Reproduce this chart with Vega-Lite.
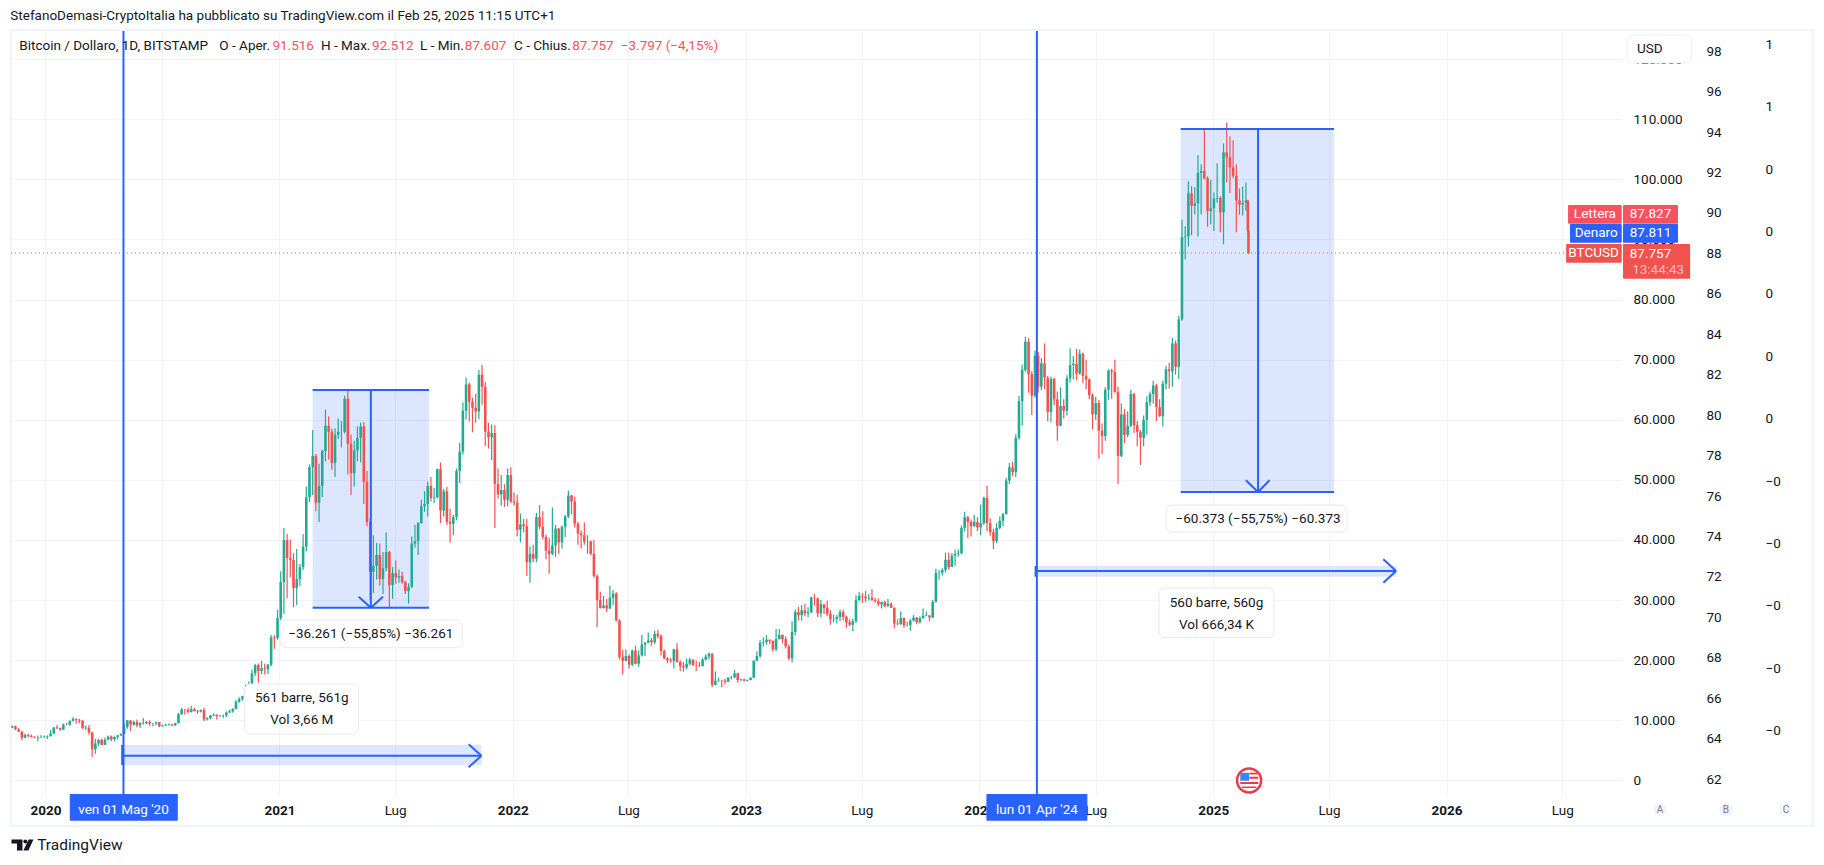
{"$schema":"https://vega.github.io/schema/vega-lite/v6.json","description":"BTCUSD daily chart with measure tools","width":1610,"height":765,"padding":{"left":12,"top":31,"right":202,"bottom":69},"autosize":"none","background":"white","config":{"view":{"stroke":null},"font":"Roboto"},"datasets":{
"candles":[
{"d":"2019-11-10","o":8800,"h":9150,"l":8700,"c":9000},{"d":"2019-11-15","o":9000,"h":9100,"l":8400,"c":8500},{"d":"2019-11-20","o":8500,"h":8700,"l":8050,"c":8100},{"d":"2019-11-25","o":8100,"h":8200,"l":6700,"c":7100},{"d":"2019-11-30","o":7100,"h":7800,"l":7000,"c":7550},{"d":"2019-12-05","o":7550,"h":7750,"l":7200,"c":7400},{"d":"2019-12-10","o":7400,"h":7650,"l":7150,"c":7200},{"d":"2019-12-15","o":7200,"h":7350,"l":7000,"c":7100},{"d":"2019-12-20","o":7100,"h":7450,"l":6500,"c":7150},{"d":"2019-12-25","o":7150,"h":7500,"l":7050,"c":7200},{"d":"2019-12-30","o":7200,"h":7450,"l":7100,"c":7250},
{"d":"2020-01-04","o":7250,"h":7500,"l":6900,"c":7350},{"d":"2020-01-09","o":7350,"h":8400,"l":7300,"c":7800},{"d":"2020-01-14","o":7800,"h":8900,"l":7700,"c":8800},{"d":"2020-01-19","o":8800,"h":9200,"l":8500,"c":8700},{"d":"2020-01-24","o":8700,"h":8800,"l":8250,"c":8450},{"d":"2020-01-29","o":8450,"h":9450,"l":8400,"c":9300},{"d":"2020-02-03","o":9300,"h":9550,"l":9200,"c":9280},{"d":"2020-02-08","o":9280,"h":9950,"l":9100,"c":9900},{"d":"2020-02-13","o":9900,"h":10500,"l":9800,"c":10250},{"d":"2020-02-18","o":10250,"h":10300,"l":9450,"c":10100},{"d":"2020-02-23","o":10100,"h":10200,"l":9500,"c":9950},{"d":"2020-02-28","o":9950,"h":10000,"l":8500,"c":8700},{"d":"2020-03-04","o":8700,"h":9150,"l":8400,"c":8750},{"d":"2020-03-09","o":8750,"h":9200,"l":7650,"c":7950},{"d":"2020-03-14","o":7950,"h":8150,"l":3940,"c":5200},{"d":"2020-03-19","o":5200,"h":6900,"l":4450,"c":6150},{"d":"2020-03-24","o":6150,"h":6850,"l":5700,"c":6750},{"d":"2020-03-29","o":6750,"h":6950,"l":5850,"c":5900},{"d":"2020-04-03","o":5900,"h":7150,"l":5900,"c":6750},{"d":"2020-04-08","o":6750,"h":7450,"l":6650,"c":7300},{"d":"2020-04-13","o":7300,"h":7450,"l":6550,"c":6850},{"d":"2020-04-18","o":6850,"h":7300,"l":6500,"c":7250},{"d":"2020-04-23","o":7250,"h":7550,"l":6800,"c":7500},{"d":"2020-04-28","o":7500,"h":7800,"l":7400,"c":7750},{"d":"2020-05-03","o":7750,"h":9450,"l":7700,"c":8900},{"d":"2020-05-08","o":8900,"h":10050,"l":8600,"c":9980},{"d":"2020-05-13","o":9980,"h":10000,"l":8200,"c":9300},{"d":"2020-05-18","o":9300,"h":9950,"l":9100,"c":9700},{"d":"2020-05-23","o":9700,"h":10150,"l":8850,"c":9180},{"d":"2020-05-28","o":9180,"h":9600,"l":8700,"c":9580},{"d":"2020-06-02","o":9580,"h":10400,"l":9300,"c":9500},{"d":"2020-06-07","o":9500,"h":9850,"l":9350,"c":9750},{"d":"2020-06-12","o":9750,"h":10000,"l":9100,"c":9450},{"d":"2020-06-17","o":9450,"h":9550,"l":8950,"c":9470},{"d":"2020-06-22","o":9470,"h":9750,"l":9200,"c":9680},{"d":"2020-06-27","o":9680,"h":9700,"l":8850,"c":9000},{"d":"2020-07-02","o":9000,"h":9300,"l":8950,"c":9120},{"d":"2020-07-07","o":9120,"h":9380,"l":9050,"c":9250},{"d":"2020-07-12","o":9250,"h":9480,"l":9100,"c":9300},{"d":"2020-07-17","o":9300,"h":9330,"l":9000,"c":9150},{"d":"2020-07-22","o":9150,"h":9550,"l":9100,"c":9520},{"d":"2020-07-27","o":9520,"h":11200,"l":9500,"c":11000},{"d":"2020-08-01","o":11000,"h":12100,"l":10900,"c":11800},{"d":"2020-08-06","o":11800,"h":11900,"l":10950,"c":11750},{"d":"2020-08-11","o":11750,"h":12100,"l":11150,"c":11400},{"d":"2020-08-16","o":11400,"h":12400,"l":11300,"c":11850},{"d":"2020-08-21","o":11850,"h":12050,"l":11450,"c":11550},{"d":"2020-08-26","o":11550,"h":11700,"l":11100,"c":11450},{"d":"2020-08-31","o":11450,"h":11800,"l":11300,"c":11700},{"d":"2020-09-05","o":11700,"h":12050,"l":9850,"c":10150},{"d":"2020-09-10","o":10150,"h":10500,"l":9950,"c":10350},{"d":"2020-09-15","o":10350,"h":10900,"l":10200,"c":10800},{"d":"2020-09-20","o":10800,"h":11150,"l":10700,"c":10930},{"d":"2020-09-25","o":10930,"h":10950,"l":10150,"c":10700},{"d":"2020-09-30","o":10700,"h":10880,"l":10600,"c":10780},{"d":"2020-10-05","o":10780,"h":10950,"l":10400,"c":10800},{"d":"2020-10-10","o":10800,"h":11450,"l":10550,"c":11300},{"d":"2020-10-15","o":11300,"h":11750,"l":11200,"c":11500},{"d":"2020-10-20","o":11500,"h":12000,"l":11250,"c":11900},{"d":"2020-10-25","o":11900,"h":13350,"l":11850,"c":13100},{"d":"2020-10-30","o":13100,"h":13850,"l":12900,"c":13550},{"d":"2020-11-04","o":13550,"h":14100,"l":13250,"c":14000},{"d":"2020-11-09","o":14000,"h":15950,"l":13500,"c":15300},{"d":"2020-11-14","o":15300,"h":16450,"l":14900,"c":16000},{"d":"2020-11-19","o":16000,"h":18450,"l":15800,"c":17800},{"d":"2020-11-24","o":17800,"h":19400,"l":17350,"c":19150},{"d":"2020-11-29","o":19150,"h":19450,"l":16300,"c":18200},{"d":"2020-12-04","o":18200,"h":19900,"l":17700,"c":18650},{"d":"2020-12-09","o":18650,"h":19400,"l":17600,"c":18500},{"d":"2020-12-14","o":18500,"h":19350,"l":17700,"c":19250},{"d":"2020-12-19","o":19250,"h":24200,"l":19000,"c":23800},{"d":"2020-12-24","o":23800,"h":24150,"l":21900,"c":23700},{"d":"2020-12-29","o":23700,"h":28400,"l":23400,"c":27000},
{"d":"2021-01-03","o":27000,"h":34800,"l":26700,"c":33000},{"d":"2021-01-08","o":33000,"h":42000,"l":27700,"c":40000},{"d":"2021-01-13","o":40000,"h":41000,"l":30300,"c":37000},{"d":"2021-01-18","o":37000,"h":40100,"l":33800,"c":36700},{"d":"2021-01-23","o":36700,"h":37800,"l":28800,"c":32000},{"d":"2021-01-28","o":32000,"h":38500,"l":29200,"c":33500},{"d":"2021-02-02","o":33500,"h":36000,"l":32300,"c":35500},{"d":"2021-02-07","o":35500,"h":41000,"l":35000,"c":38900},{"d":"2021-02-12","o":38900,"h":48900,"l":38100,"c":47100},{"d":"2021-02-17","o":47100,"h":52600,"l":46300,"c":52100},{"d":"2021-02-22","o":52100,"h":58300,"l":47500,"c":54000},{"d":"2021-02-27","o":54000,"h":54300,"l":44800,"c":46200},{"d":"2021-03-04","o":46200,"h":52700,"l":43000,"c":49000},{"d":"2021-03-09","o":49000,"h":55000,"l":47100,"c":54800},{"d":"2021-03-14","o":54800,"h":61700,"l":53100,"c":59000},{"d":"2021-03-19","o":59000,"h":60600,"l":53400,"c":58000},{"d":"2021-03-24","o":58000,"h":58500,"l":51700,"c":52800},{"d":"2021-03-29","o":52800,"h":58600,"l":50500,"c":57500},{"d":"2021-04-03","o":57500,"h":60200,"l":56800,"c":58000},{"d":"2021-04-08","o":58000,"h":59800,"l":55400,"c":58000},{"d":"2021-04-13","o":58000,"h":64000,"l":57700,"c":63500},{"d":"2021-04-18","o":63500,"h":64950,"l":50900,"c":56000},{"d":"2021-04-23","o":56000,"h":57500,"l":47500,"c":51100},{"d":"2021-04-28","o":51100,"h":56500,"l":48900,"c":54900},{"d":"2021-05-03","o":54900,"h":58900,"l":53100,"c":57000},{"d":"2021-05-08","o":57000,"h":59500,"l":52900,"c":58900},{"d":"2021-05-13","o":58900,"h":59600,"l":46000,"c":49700},{"d":"2021-05-18","o":49700,"h":51500,"l":42300,"c":43000},{"d":"2021-05-23","o":43000,"h":43600,"l":30100,"c":34700},{"d":"2021-05-28","o":34700,"h":40800,"l":31200,"c":35700},{"d":"2021-06-02","o":35700,"h":39500,"l":33400,"c":37500},{"d":"2021-06-07","o":37500,"h":39400,"l":32400,"c":33500},{"d":"2021-06-12","o":33500,"h":38000,"l":31000,"c":35300},{"d":"2021-06-17","o":35300,"h":41300,"l":34800,"c":38000},{"d":"2021-06-22","o":38000,"h":38200,"l":28800,"c":32500},{"d":"2021-06-27","o":32500,"h":35500,"l":30200,"c":34500},{"d":"2021-07-02","o":34500,"h":36600,"l":32700,"c":33800},{"d":"2021-07-07","o":33800,"h":35100,"l":32900,"c":34000},{"d":"2021-07-12","o":34000,"h":34700,"l":32700,"c":33000},{"d":"2021-07-17","o":33000,"h":33200,"l":31000,"c":31500},{"d":"2021-07-22","o":31500,"h":32800,"l":29400,"c":32200},{"d":"2021-07-27","o":32200,"h":40600,"l":32000,"c":39400},{"d":"2021-08-01","o":39400,"h":42500,"l":38700,"c":39800},{"d":"2021-08-06","o":39800,"h":43000,"l":37500,"c":42800},{"d":"2021-08-11","o":42800,"h":46700,"l":42700,"c":45600},{"d":"2021-08-16","o":45600,"h":48100,"l":44700,"c":46000},{"d":"2021-08-21","o":46000,"h":49700,"l":43900,"c":49000},{"d":"2021-08-26","o":49000,"h":50500,"l":46400,"c":47000},{"d":"2021-08-31","o":47000,"h":48700,"l":46100,"c":47100},{"d":"2021-09-05","o":47100,"h":51900,"l":46900,"c":51800},{"d":"2021-09-10","o":51800,"h":52900,"l":42800,"c":44900},{"d":"2021-09-15","o":44900,"h":48500,"l":43900,"c":48100},{"d":"2021-09-20","o":48100,"h":48800,"l":42500,"c":43000},{"d":"2021-09-25","o":43000,"h":45200,"l":39600,"c":42700},{"d":"2021-09-30","o":42700,"h":44200,"l":40800,"c":43800},{"d":"2021-10-05","o":43800,"h":51900,"l":43300,"c":51500},{"d":"2021-10-10","o":51500,"h":56200,"l":49500,"c":54700},{"d":"2021-10-15","o":54700,"h":62900,"l":54200,"c":61500},{"d":"2021-10-20","o":61500,"h":67000,"l":60000,"c":65900},{"d":"2021-10-25","o":65900,"h":66200,"l":59700,"c":63000},{"d":"2021-10-30","o":63000,"h":63700,"l":57900,"c":62000},{"d":"2021-11-04","o":62000,"h":64300,"l":59500,"c":61400},{"d":"2021-11-09","o":61400,"h":68300,"l":60100,"c":67500},{"d":"2021-11-14","o":67500,"h":69100,"l":62500,"c":65500},{"d":"2021-11-19","o":65500,"h":66300,"l":55600,"c":58000},{"d":"2021-11-24","o":58000,"h":59500,"l":55200,"c":57100},{"d":"2021-11-29","o":57100,"h":59200,"l":53300,"c":57800},{"d":"2021-12-04","o":57800,"h":59100,"l":42000,"c":49300},{"d":"2021-12-09","o":49300,"h":51900,"l":46900,"c":47600},{"d":"2021-12-14","o":47600,"h":50800,"l":45700,"c":48300},{"d":"2021-12-19","o":48300,"h":49300,"l":45500,"c":46700},{"d":"2021-12-24","o":46700,"h":51900,"l":45600,"c":50800},{"d":"2021-12-29","o":50800,"h":52100,"l":46100,"c":46400},
{"d":"2022-01-03","o":46400,"h":47900,"l":45700,"c":46200},{"d":"2022-01-08","o":46200,"h":47500,"l":40600,"c":41700},{"d":"2022-01-13","o":41700,"h":44400,"l":39600,"c":42600},{"d":"2022-01-18","o":42600,"h":43500,"l":41300,"c":42300},{"d":"2022-01-23","o":42300,"h":43500,"l":34000,"c":36300},{"d":"2022-01-28","o":36300,"h":38900,"l":32900,"c":37700},{"d":"2022-02-02","o":37700,"h":39200,"l":36300,"c":36900},{"d":"2022-02-07","o":36900,"h":44500,"l":36300,"c":43800},{"d":"2022-02-12","o":43800,"h":45800,"l":41800,"c":42200},{"d":"2022-02-17","o":42200,"h":44800,"l":40100,"c":40500},{"d":"2022-02-22","o":40500,"h":40900,"l":36800,"c":38200},{"d":"2022-02-27","o":38200,"h":40300,"l":34400,"c":37700},{"d":"2022-03-04","o":37700,"h":45400,"l":37500,"c":39100},{"d":"2022-03-09","o":39100,"h":42500,"l":37200,"c":41900},{"d":"2022-03-14","o":41900,"h":42000,"l":37700,"c":39600},{"d":"2022-03-19","o":39600,"h":42400,"l":38600,"c":42200},{"d":"2022-03-24","o":42200,"h":44200,"l":40500,"c":43900},{"d":"2022-03-29","o":43900,"h":48200,"l":43600,"c":47400},{"d":"2022-04-03","o":47400,"h":47500,"l":44300,"c":46400},{"d":"2022-04-08","o":46400,"h":47200,"l":42100,"c":42700},{"d":"2022-04-13","o":42700,"h":43000,"l":39200,"c":41100},{"d":"2022-04-18","o":41100,"h":41600,"l":38600,"c":40800},{"d":"2022-04-23","o":40800,"h":42900,"l":39200,"c":39700},{"d":"2022-04-28","o":39700,"h":40800,"l":37700,"c":39750},{"d":"2022-05-03","o":39750,"h":39900,"l":37400,"c":37700},{"d":"2022-05-08","o":37700,"h":40000,"l":33700,"c":34000},{"d":"2022-05-13","o":34000,"h":34300,"l":25500,"c":30000},{"d":"2022-05-18","o":30000,"h":31400,"l":28600,"c":28700},{"d":"2022-05-23","o":28700,"h":30700,"l":28600,"c":29100},{"d":"2022-05-28","o":29100,"h":30200,"l":28000,"c":28600},{"d":"2022-06-02","o":28600,"h":32400,"l":28500,"c":30400},{"d":"2022-06-07","o":30400,"h":31700,"l":29200,"c":31100},{"d":"2022-06-12","o":31100,"h":31300,"l":26500,"c":26600},{"d":"2022-06-17","o":26600,"h":26800,"l":20100,"c":20500},{"d":"2022-06-22","o":20500,"h":21700,"l":17600,"c":19900},{"d":"2022-06-27","o":19900,"h":21800,"l":19800,"c":20700},{"d":"2022-07-02","o":20700,"h":21000,"l":18600,"c":19250},{"d":"2022-07-07","o":19250,"h":21800,"l":19000,"c":21600},{"d":"2022-07-12","o":21600,"h":22400,"l":19300,"c":19400},{"d":"2022-07-17","o":19400,"h":21600,"l":18900,"c":20800},{"d":"2022-07-22","o":20800,"h":24200,"l":20600,"c":22600},{"d":"2022-07-27","o":22600,"h":23000,"l":20700,"c":22900},{"d":"2022-08-01","o":22900,"h":24600,"l":22800,"c":23300},{"d":"2022-08-06","o":23300,"h":23700,"l":22400,"c":23000},{"d":"2022-08-11","o":23000,"h":24900,"l":22700,"c":24400},{"d":"2022-08-16","o":24400,"h":25100,"l":23600,"c":24000},{"d":"2022-08-21","o":24000,"h":24300,"l":20800,"c":21500},{"d":"2022-08-26","o":21500,"h":21800,"l":20100,"c":20300},{"d":"2022-08-31","o":20300,"h":20500,"l":19500,"c":20000},{"d":"2022-09-05","o":20000,"h":20400,"l":19600,"c":19900},{"d":"2022-09-10","o":19900,"h":21900,"l":18600,"c":21800},{"d":"2022-09-15","o":21800,"h":22800,"l":19600,"c":19700},{"d":"2022-09-20","o":19700,"h":20000,"l":18200,"c":19000},{"d":"2022-09-25","o":19000,"h":19700,"l":18100,"c":18800},{"d":"2022-09-30","o":18800,"h":20300,"l":18500,"c":19400},{"d":"2022-10-05","o":19400,"h":20400,"l":19100,"c":20100},{"d":"2022-10-10","o":20100,"h":20100,"l":19100,"c":19120},{"d":"2022-10-15","o":19120,"h":19900,"l":18200,"c":19100},{"d":"2022-10-20","o":19100,"h":19700,"l":18900,"c":19000},{"d":"2022-10-25","o":19000,"h":20400,"l":19000,"c":20100},{"d":"2022-10-30","o":20100,"h":21000,"l":20000,"c":20600},{"d":"2022-11-04","o":20600,"h":21300,"l":20100,"c":21100},{"d":"2022-11-09","o":21100,"h":21100,"l":15500,"c":15900},{"d":"2022-11-14","o":15900,"h":18100,"l":15800,"c":16600},{"d":"2022-11-19","o":16600,"h":17100,"l":16400,"c":16650},{"d":"2022-11-24","o":16650,"h":16800,"l":15500,"c":16600},{"d":"2022-11-29","o":16600,"h":16900,"l":16000,"c":16400},{"d":"2022-12-04","o":16400,"h":17200,"l":16400,"c":17100},{"d":"2022-12-09","o":17100,"h":17400,"l":16800,"c":17150},{"d":"2022-12-14","o":17150,"h":18400,"l":17000,"c":17800},{"d":"2022-12-19","o":17800,"h":17900,"l":16300,"c":16700},{"d":"2022-12-24","o":16700,"h":16900,"l":16550,"c":16800},{"d":"2022-12-29","o":16800,"h":16950,"l":16450,"c":16600},
{"d":"2023-01-03","o":16600,"h":16800,"l":16500,"c":16700},{"d":"2023-01-08","o":16700,"h":17100,"l":16650,"c":17100},{"d":"2023-01-13","o":17100,"h":20000,"l":17050,"c":19900},{"d":"2023-01-18","o":19900,"h":21500,"l":19900,"c":20700},{"d":"2023-01-23","o":20700,"h":23300,"l":20400,"c":22900},{"d":"2023-01-28","o":22900,"h":23800,"l":22300,"c":23000},{"d":"2023-02-02","o":23000,"h":24200,"l":22600,"c":23400},{"d":"2023-02-07","o":23400,"h":23450,"l":22700,"c":23200},{"d":"2023-02-12","o":23200,"h":23300,"l":21400,"c":21800},{"d":"2023-02-17","o":21800,"h":25200,"l":21500,"c":23500},{"d":"2023-02-22","o":23500,"h":25200,"l":23500,"c":24200},{"d":"2023-02-27","o":24200,"h":24300,"l":22800,"c":23500},{"d":"2023-03-04","o":23500,"h":24000,"l":21950,"c":22300},{"d":"2023-03-09","o":22300,"h":22600,"l":20000,"c":20300},{"d":"2023-03-14","o":20300,"h":26500,"l":19600,"c":24700},{"d":"2023-03-19","o":24700,"h":28400,"l":24100,"c":28000},{"d":"2023-03-24","o":28000,"h":28900,"l":26600,"c":27500},{"d":"2023-03-29","o":27500,"h":29200,"l":26600,"c":28300},{"d":"2023-04-03","o":28300,"h":29400,"l":27300,"c":27800},{"d":"2023-04-08","o":27800,"h":28800,"l":27200,"c":28000},{"d":"2023-04-13","o":28000,"h":30600,"l":27800,"c":30400},{"d":"2023-04-18","o":30400,"h":31000,"l":29100,"c":30300},{"d":"2023-04-23","o":30300,"h":30400,"l":27200,"c":27800},{"d":"2023-04-28","o":27800,"h":30000,"l":27100,"c":29300},{"d":"2023-05-03","o":29300,"h":29300,"l":27700,"c":28700},{"d":"2023-05-08","o":28700,"h":29900,"l":27300,"c":27700},{"d":"2023-05-13","o":27700,"h":28300,"l":25900,"c":26800},{"d":"2023-05-18","o":26800,"h":27600,"l":26300,"c":26850},{"d":"2023-05-23","o":26850,"h":27500,"l":26100,"c":27200},{"d":"2023-05-28","o":27200,"h":28450,"l":26500,"c":28000},{"d":"2023-06-02","o":28000,"h":28400,"l":26600,"c":27200},{"d":"2023-06-07","o":27200,"h":27400,"l":25400,"c":26300},{"d":"2023-06-12","o":26300,"h":26800,"l":25700,"c":25900},{"d":"2023-06-17","o":25900,"h":26900,"l":24800,"c":26500},{"d":"2023-06-22","o":26500,"h":30800,"l":26200,"c":30000},{"d":"2023-06-27","o":30000,"h":31400,"l":29900,"c":30700},{"d":"2023-07-02","o":30700,"h":31200,"l":29500,"c":30600},{"d":"2023-07-07","o":30600,"h":31500,"l":29700,"c":30300},{"d":"2023-07-12","o":30300,"h":31000,"l":29900,"c":30400},{"d":"2023-07-17","o":30400,"h":31800,"l":29900,"c":30000},{"d":"2023-07-22","o":30000,"h":30400,"l":29600,"c":29800},{"d":"2023-07-27","o":29800,"h":30300,"l":29000,"c":29300},{"d":"2023-08-01","o":29300,"h":29700,"l":28600,"c":29700},{"d":"2023-08-06","o":29700,"h":29900,"l":28800,"c":29000},{"d":"2023-08-11","o":29000,"h":30200,"l":28900,"c":29400},{"d":"2023-08-16","o":29400,"h":29600,"l":28700,"c":28700},{"d":"2023-08-21","o":28700,"h":28800,"l":25300,"c":26100},{"d":"2023-08-26","o":26100,"h":26800,"l":25800,"c":26000},{"d":"2023-08-31","o":26000,"h":28100,"l":25900,"c":27000},{"d":"2023-09-05","o":27000,"h":27100,"l":25400,"c":25800},{"d":"2023-09-10","o":25800,"h":26400,"l":25600,"c":25850},{"d":"2023-09-15","o":25850,"h":26900,"l":24900,"c":26600},{"d":"2023-09-20","o":26600,"h":27500,"l":26400,"c":27100},{"d":"2023-09-25","o":27100,"h":27200,"l":26000,"c":26300},{"d":"2023-09-30","o":26300,"h":27300,"l":26100,"c":27000},{"d":"2023-10-05","o":27000,"h":28600,"l":26900,"c":27400},{"d":"2023-10-10","o":27400,"h":28100,"l":27300,"c":27450},{"d":"2023-10-15","o":27450,"h":27500,"l":26500,"c":27100},{"d":"2023-10-20","o":27100,"h":30000,"l":27000,"c":29700},{"d":"2023-10-25","o":29700,"h":35200,"l":29600,"c":34500},{"d":"2023-10-30","o":34500,"h":35000,"l":33400,"c":34550},{"d":"2023-11-04","o":34550,"h":35300,"l":34100,"c":35000},{"d":"2023-11-09","o":35000,"h":37900,"l":34600,"c":36700},{"d":"2023-11-14","o":36700,"h":37900,"l":35100,"c":35500},{"d":"2023-11-19","o":35500,"h":37800,"l":35500,"c":37400},{"d":"2023-11-24","o":37400,"h":38400,"l":35700,"c":37700},{"d":"2023-11-29","o":37700,"h":38400,"l":37200,"c":37800},{"d":"2023-12-04","o":37800,"h":42400,"l":37600,"c":42000},{"d":"2023-12-09","o":42000,"h":44700,"l":41400,"c":43800},{"d":"2023-12-14","o":43800,"h":44000,"l":40300,"c":43000},{"d":"2023-12-19","o":43000,"h":43400,"l":40600,"c":42300},{"d":"2023-12-24","o":42300,"h":44200,"l":42200,"c":43000},{"d":"2023-12-29","o":43000,"h":43800,"l":41500,"c":42100},
{"d":"2024-01-03","o":42100,"h":45900,"l":40800,"c":42800},{"d":"2024-01-08","o":42800,"h":47200,"l":42500,"c":47000},{"d":"2024-01-13","o":47000,"h":49000,"l":41500,"c":42800},{"d":"2024-01-18","o":42800,"h":43600,"l":40700,"c":41300},{"d":"2024-01-23","o":41300,"h":41900,"l":38500,"c":39800},{"d":"2024-01-28","o":39800,"h":42800,"l":39500,"c":42000},{"d":"2024-02-02","o":42000,"h":43900,"l":41800,"c":43200},{"d":"2024-02-07","o":43200,"h":44500,"l":42300,"c":44300},{"d":"2024-02-12","o":44300,"h":50300,"l":44300,"c":49900},{"d":"2024-02-17","o":49900,"h":52800,"l":49300,"c":52100},{"d":"2024-02-22","o":52100,"h":53000,"l":50600,"c":51300},{"d":"2024-02-27","o":51300,"h":57600,"l":50500,"c":57000},{"d":"2024-03-03","o":57000,"h":64000,"l":56700,"c":63100},{"d":"2024-03-08","o":63100,"h":69200,"l":59000,"c":68300},{"d":"2024-03-13","o":68300,"h":73800,"l":68000,"c":73000},{"d":"2024-03-18","o":73000,"h":73600,"l":64500,"c":67600},{"d":"2024-03-23","o":67600,"h":68100,"l":60800,"c":64000},{"d":"2024-03-28","o":64000,"h":71500,"l":63700,"c":70700},{"d":"2024-04-02","o":70700,"h":71300,"l":64500,"c":65500},{"d":"2024-04-07","o":65500,"h":70300,"l":64900,"c":69400},{"d":"2024-04-12","o":69400,"h":72700,"l":65100,"c":67000},{"d":"2024-04-17","o":67000,"h":67300,"l":59700,"c":61300},{"d":"2024-04-22","o":61300,"h":67200,"l":59600,"c":66800},{"d":"2024-04-27","o":66800,"h":67000,"l":62400,"c":63400},{"d":"2024-05-02","o":63400,"h":64700,"l":56500,"c":59000},{"d":"2024-05-07","o":59000,"h":65400,"l":58900,"c":62300},{"d":"2024-05-12","o":62300,"h":63400,"l":60200,"c":61500},{"d":"2024-05-17","o":61500,"h":67400,"l":60700,"c":66900},{"d":"2024-05-22","o":66900,"h":71900,"l":66200,"c":69100},{"d":"2024-05-27","o":69100,"h":70600,"l":66700,"c":69300},{"d":"2024-06-01","o":69300,"h":71800,"l":66600,"c":67700},{"d":"2024-06-06","o":67700,"h":71700,"l":67500,"c":71000},{"d":"2024-06-11","o":71000,"h":71200,"l":66100,"c":67300},{"d":"2024-06-16","o":67300,"h":70000,"l":65100,"c":66700},{"d":"2024-06-21","o":66700,"h":66900,"l":63400,"c":64100},{"d":"2024-06-26","o":64100,"h":64400,"l":58400,"c":60900},{"d":"2024-07-01","o":60900,"h":63800,"l":60000,"c":62800},{"d":"2024-07-06","o":62800,"h":63300,"l":53500,"c":58200},{"d":"2024-07-11","o":58200,"h":59400,"l":54300,"c":57300},{"d":"2024-07-16","o":57300,"h":65400,"l":56500,"c":65000},{"d":"2024-07-21","o":65000,"h":68400,"l":63300,"c":68200},{"d":"2024-07-26","o":68200,"h":68500,"l":63500,"c":68000},{"d":"2024-07-31","o":68000,"h":70000,"l":64500,"c":64600},{"d":"2024-08-05","o":64600,"h":65500,"l":49300,"c":54000},{"d":"2024-08-10","o":54000,"h":62700,"l":53800,"c":60900},{"d":"2024-08-15","o":60900,"h":61800,"l":56100,"c":57500},{"d":"2024-08-20","o":57500,"h":61400,"l":57100,"c":59000},{"d":"2024-08-25","o":59000,"h":65000,"l":58800,"c":64300},{"d":"2024-08-30","o":64300,"h":64500,"l":57800,"c":59100},{"d":"2024-09-04","o":59100,"h":59800,"l":55600,"c":58000},{"d":"2024-09-09","o":58000,"h":58300,"l":52500,"c":57000},{"d":"2024-09-14","o":57000,"h":60700,"l":55600,"c":60000},{"d":"2024-09-19","o":60000,"h":63900,"l":57500,"c":62900},{"d":"2024-09-24","o":62900,"h":64700,"l":62300,"c":64300},{"d":"2024-09-29","o":64300,"h":66500,"l":62700,"c":65700},{"d":"2024-10-04","o":65700,"h":66000,"l":59800,"c":62100},{"d":"2024-10-09","o":62100,"h":63400,"l":60500,"c":60600},{"d":"2024-10-14","o":60600,"h":66500,"l":58900,"c":66000},{"d":"2024-10-19","o":66000,"h":69000,"l":65100,"c":68400},{"d":"2024-10-24","o":68400,"h":69500,"l":65200,"c":68100},{"d":"2024-10-29","o":68100,"h":73600,"l":65500,"c":72700},{"d":"2024-11-03","o":72700,"h":73200,"l":67500,"c":68800},{"d":"2024-11-08","o":68800,"h":77300,"l":66800,"c":76700},{"d":"2024-11-13","o":76700,"h":93300,"l":76500,"c":90400},{"d":"2024-11-18","o":90400,"h":92200,"l":86700,"c":90500},{"d":"2024-11-23","o":90500,"h":99700,"l":88800,"c":97700},{"d":"2024-11-28","o":97700,"h":98900,"l":90700,"c":95600},{"d":"2024-12-03","o":95600,"h":98700,"l":94200,"c":96000},{"d":"2024-12-08","o":96000,"h":104000,"l":90500,"c":101100},{"d":"2024-12-13","o":101100,"h":102500,"l":94200,"c":101400},{"d":"2024-12-18","o":101400,"h":108360,"l":100000,"c":100200},{"d":"2024-12-23","o":100200,"h":100500,"l":92100,"c":94700},{"d":"2024-12-28","o":94700,"h":99900,"l":92500,"c":95200},
{"d":"2025-01-02","o":95200,"h":97800,"l":91400,"c":96800},{"d":"2025-01-07","o":96800,"h":102700,"l":96100,"c":96900},{"d":"2025-01-12","o":96900,"h":97200,"l":91200,"c":94500},{"d":"2025-01-17","o":94500,"h":106000,"l":89200,"c":104500},{"d":"2025-01-22","o":104500,"h":109430,"l":99500,"c":103700},{"d":"2025-01-27","o":103700,"h":107200,"l":97700,"c":102000},{"d":"2025-02-01","o":102000,"h":106500,"l":100200,"c":100600},{"d":"2025-02-06","o":100600,"h":102500,"l":91200,"c":96500},{"d":"2025-02-11","o":96500,"h":98500,"l":94100,"c":95800},{"d":"2025-02-16","o":95800,"h":98800,"l":94000,"c":96100},{"d":"2025-02-21","o":96100,"h":99500,"l":94800,"c":96500},{"d":"2025-02-24","o":96500,"h":96600,"l":91200,"c":91516},{"d":"2025-02-25","o":91516,"h":92512,"l":87607,"c":87757}
],
"frame":[{"d":"2019-11-08","d2":"2027-07-28","v":124860,"v2":-7587}],
"bands":[{"d":"2021-02-22","d2":"2021-08-23","v":64960,"v2":28730},{"d":"2024-11-11","d2":"2025-07-09","v":108390,"v2":47990},{"d":"2020-05-02","d2":"2021-11-13","v":5890,"v2":2560},{"d":"2024-03-31","d2":"2025-10-14","v":35670,"v2":33890}],
"rules":[{"d":"2020-05-02","d2":"2020-05-02","v":124692,"v2":-2596},{"d":"2024-03-31","d2":"2024-03-31","v":124692,"v2":-2596},
{"d":"2021-02-22","d2":"2021-08-23","v":64960,"v2":64960},{"d":"2021-02-22","d2":"2021-08-23","v":28730,"v2":28730},{"d":"2021-05-24","d2":"2021-05-24","v":64960,"v2":28730},{"d":"2021-05-05","d2":"2021-05-24","v":30565,"v2":28730},{"d":"2021-06-12","d2":"2021-05-24","v":30565,"v2":28730},
{"d":"2024-11-11","d2":"2025-07-09","v":108390,"v2":108390},{"d":"2024-11-11","d2":"2025-07-09","v":47990,"v2":47990},{"d":"2025-03-12","d2":"2025-03-12","v":108390,"v2":47990},{"d":"2025-02-21","d2":"2025-03-12","v":49930,"v2":47990},{"d":"2025-03-30","d2":"2025-03-12","v":49930,"v2":47990},
{"d":"2020-05-02","d2":"2021-11-13","v":4110,"v2":4110},{"d":"2021-10-24","d2":"2021-11-13","v":6000,"v2":4110},{"d":"2021-10-24","d2":"2021-11-13","v":2180,"v2":4110},{"d":"2020-04-30","d2":"2020-04-30","v":5890,"v2":2560},
{"d":"2024-03-31","d2":"2025-10-14","v":34840,"v2":34840},{"d":"2025-09-24","d2":"2025-10-14","v":36790,"v2":34840},{"d":"2025-09-24","d2":"2025-10-14","v":32890,"v2":34840},{"d":"2024-03-29","d2":"2024-03-29","v":35670,"v2":33890}],
"lastPrice":[{"d":"2019-11-08","d2":"2026-07-07","v":87757}],
"boxes":[{"d":"2020-11-07","d2":"2021-05-05","v":16040,"v2":7720},{"d":"2021-01-02","d2":"2021-10-14","v":26690,"v2":22080},{"d":"2024-10-19","d2":"2025-07-29","v":45820,"v2":41330},{"d":"2024-10-08","d2":"2025-04-06","v":32010,"v2":23740}],
"usdBox":[{"d":"2026-10-10","d2":"2027-01-19","v":124010,"v2":119360}],
"tags":[{"d":"2020-02-08","d2":"2020-07-26","v":-2260,"v2":-6700,"k":"tag"},{"d":"2024-01-12","d2":"2024-06-18","v":-2260,"v2":-6700,"k":"tag"},{"d":"2026-07-10","d2":"2026-10-02","v":95740,"v2":92630,"k":"ask"},{"d":"2026-10-04","d2":"2026-12-29","v":95740,"v2":92630,"k":"ask"},{"d":"2026-07-13","d2":"2026-10-02","v":92580,"v2":89470,"k":"bid"},{"d":"2026-10-04","d2":"2026-12-29","v":92580,"v2":89470,"k":"bid"},{"d":"2026-07-07","d2":"2026-10-02","v":89250,"v2":86140,"k":"last"},{"d":"2026-10-04","d2":"2027-01-17","v":89250,"v2":83480,"k":"last"}],
"leftText":[{"d":"2019-11-07","v":127105,"t":"StefanoDemasi-CryptoItalia ha pubblicato su TradingView.com il Feb 25, 2025 11:15 UTC+1"},{"d":"2019-11-21","v":122113,"t":"Bitcoin / Dollaro, 1D, BITSTAMP"},{"d":"2020-09-29","v":122113,"t":"O - Aper."},{"d":"2021-03-07","v":122113,"t":"H - Max."},{"d":"2021-08-09","v":122113,"t":"L - Min."},{"d":"2022-01-03","v":122113,"t":"C - Chius."},{"d":"2026-10-26","v":121670,"t":"USD"}],
"redText":[{"d":"2020-12-21","v":122113,"t":"91.516"},{"d":"2021-05-26","v":122113,"t":"92.512"},{"d":"2021-10-18","v":122113,"t":"87.607"},{"d":"2022-04-04","v":122113,"t":"87.757"},{"d":"2022-06-19","v":122113,"t":"−3.797 (−4,15%)"}],
"centerText":[{"d":"2021-02-05","v":13710,"t":"561 barre, 561g"},{"d":"2021-02-05","v":10050,"t":"Vol 3,66 M"},{"d":"2021-05-24","v":24360,"t":"−36.261 (−55,85%) −36.261"},{"d":"2025-03-12","v":43490,"t":"−60.373 (−55,75%) −60.373"},{"d":"2025-01-06","v":29570,"t":"560 barre, 560g"},{"d":"2025-01-06","v":25910,"t":"Vol 666,34 K"}],
"whiteText":[{"d":"2020-05-02","v":-4925,"t":"ven 01 Mag '20"},{"d":"2024-03-31","v":-4925,"t":"lun 01 Apr '24"},{"d":"2026-08-21","v":94180,"t":"Lettera"},{"d":"2026-08-23","v":91010,"t":"Denaro"},{"d":"2026-08-19","v":87700,"t":"BTCUSD"},{"d":"2026-11-16","v":94180,"t":"87.827"},{"d":"2026-11-16","v":91010,"t":"87.811"},{"d":"2026-11-16","v":87590,"t":"87.757"}],
"countdown":[{"d":"2026-11-28","v":84930,"t":"13:44:43"}],
"brand":[{"d":"2019-12-19","v":-10750,"t":"TradingView"}],
"logo":[{"d":"2019-11-26","v":-10750}],
"flag":[{"d":"2025-02-26","v":0}],
"paneButtons":[{"d":"2026-12-01","v":-4890,"t":"A"},{"d":"2027-03-14","v":-4890,"t":"B"},{"d":"2027-06-16","v":-4890,"t":"C"}]
},
"layer":[
{"encoding":{
"x":{"field":"d","type":"temporal","title":null,"scale":{"type":"utc","padding":0,"domain":[1573309440000,1790933760000]},"axis":{"orient":"bottom","tickCount":{"interval":"month","step":6},"grid":true,"gridColor":"#f0f3fa","gridWidth":1,"domain":false,"ticks":false,"labelPadding":7,"labelFontSize":13.5,"labelColor":"#131722","labelFlush":false,"labelOverlap":false,"labelExpr":"utcmonth(datum.value)==0?utcFormat(datum.value,'%Y'):'Lug'","labelFontWeight":{"condition":{"test":"utcmonth(datum.value)==0","value":"bold"},"value":"normal"}}},
"y":{"field":"v","type":"quantitative","title":null,"scale":{"domain":[-2596,124692],"nice":false,"zero":false},"axis":{"orient":"right","values":[0,10000,20000,30000,40000,50000,60000,70000,80000,90000,100000,110000,120000],"grid":true,"gridColor":"#f0f3fa","gridWidth":1,"domain":false,"ticks":false,"labelPadding":11,"labelFontSize":13.5,"labelColor":"#131722","labelFlush":false,"labelOverlap":false,"labelExpr":"replace(format(datum.value,','),',','.')"}}},
"layer":[
{"data":{"name":"frame"},"mark":{"type":"rect","filled":false,"stroke":"#f0f3fa","strokeWidth":2},"encoding":{"x2":{"field":"d2"},"y2":{"field":"v2"}}},
{"data":{"name":"bands"},"mark":{"type":"rect","fill":"#2962ff","fillOpacity":0.16},"encoding":{"x2":{"field":"d2"},"y2":{"field":"v2"}}},
{"data":{"name":"candles"},"mark":{"type":"rule","strokeWidth":1.2},"encoding":{"y":{"field":"l","type":"quantitative","title":null,"scale":{"domain":[-2596,124692],"nice":false,"zero":false},"axis":{"orient":"right","values":[0,10000,20000,30000,40000,50000,60000,70000,80000,90000,100000,110000,120000],"grid":true,"gridColor":"#f0f3fa","gridWidth":1,"domain":false,"ticks":false,"labelPadding":11,"labelFontSize":13.5,"labelColor":"#131722","labelFlush":false,"labelOverlap":false,"labelExpr":"replace(format(datum.value,','),',','.')"}},"y2":{"field":"h"},"color":{"condition":{"test":"datum.c>=datum.o","value":"#22ab94"},"value":"#f7514f"}}},
{"data":{"name":"candles"},"mark":{"type":"bar","width":2.6},"encoding":{"y":{"field":"o","type":"quantitative","title":null,"scale":{"domain":[-2596,124692],"nice":false,"zero":false},"axis":{"orient":"right","values":[0,10000,20000,30000,40000,50000,60000,70000,80000,90000,100000,110000,120000],"grid":true,"gridColor":"#f0f3fa","gridWidth":1,"domain":false,"ticks":false,"labelPadding":11,"labelFontSize":13.5,"labelColor":"#131722","labelFlush":false,"labelOverlap":false,"labelExpr":"replace(format(datum.value,','),',','.')"}},"y2":{"field":"c"},"color":{"condition":{"test":"datum.c>=datum.o","value":"#22ab94"},"value":"#f7514f"}}},
{"data":{"name":"lastPrice"},"mark":{"type":"rule","color":"#f0524f","strokeWidth":1,"strokeDash":[1,3]},"encoding":{"x2":{"field":"d2"}}},
{"data":{"name":"rules"},"mark":{"type":"rule","color":"#2962ff","strokeWidth":2},"encoding":{"x2":{"field":"d2"},"y2":{"field":"v2"}}},
{"data":{"name":"boxes"},"mark":{"type":"rect","fill":"white","stroke":"#e6e8ee","cornerRadius":6},"encoding":{"x2":{"field":"d2"},"y2":{"field":"v2"}}},
{"data":{"name":"usdBox"},"mark":{"type":"rect","fill":"white","stroke":"#eceef3","cornerRadius":5},"encoding":{"x2":{"field":"d2"},"y2":{"field":"v2"}}},
{"data":{"name":"tags"},"mark":{"type":"rect","cornerRadius":1},"encoding":{"x2":{"field":"d2"},"y2":{"field":"v2"},"color":{"field":"k","type":"nominal","legend":null,"scale":{"domain":["tag","ask","bid","last"],"range":["#2962ff","#f7525f","#2962ff","#f0524f"]}}}},
{"data":{"name":"leftText"},"mark":{"type":"text","align":"left","baseline":"middle","fontSize":13.5,"color":"#131722"},"encoding":{"text":{"field":"t"}}},
{"data":{"name":"redText"},"mark":{"type":"text","align":"left","baseline":"middle","fontSize":13.5,"color":"#f7525f"},"encoding":{"text":{"field":"t"}}},
{"data":{"name":"centerText"},"mark":{"type":"text","align":"center","baseline":"middle","fontSize":13.5,"color":"#131722"},"encoding":{"text":{"field":"t"}}},
{"data":{"name":"whiteText"},"mark":{"type":"text","align":"center","baseline":"middle","fontSize":13.5,"color":"white"},"encoding":{"text":{"field":"t"}}},
{"data":{"name":"countdown"},"mark":{"type":"text","align":"center","baseline":"middle","fontSize":13.5,"color":"white","opacity":0.6},"encoding":{"text":{"field":"t"}}},
{"data":{"name":"brand"},"mark":{"type":"text","align":"left","baseline":"middle","fontSize":15.5,"color":"#131722"},"encoding":{"text":{"field":"t"}}},
{"data":{"name":"logo"},"mark":{"type":"point","shape":"M-.5 -.25H0V.25H-.25V-.07H-.5ZM.04 -.16a.09 .09 0 1 0 .18 0a.09 .09 0 1 0 -.18 0ZM.28 -.25H.5L.27 .25H.04Z","filled":true,"fill":"#131722","size":1936,"opacity":1}},
{"data":{"name":"flag"},"mark":{"type":"point","shape":"circle","filled":true,"fill":"white","stroke":"#f23645","strokeWidth":2.5,"size":576,"opacity":1}},
{"data":{"name":"flag"},"mark":{"type":"point","shape":"M.02 -.38H.4V-.3H.02ZM.02 -.18H.46V-.08H.02ZM-.44 .08H.46V.18H-.44ZM-.36 .3H.36V.38H-.36Z","filled":true,"fill":"#f23645","size":1600,"opacity":1}},
{"data":{"name":"flag"},"mark":{"type":"point","shape":"M-.44 -.38H0V.02H-.44Z","filled":true,"fill":"#2f8bf0","size":1600,"opacity":1}},
{"data":{"name":"paneButtons"},"mark":{"type":"point","shape":"circle","filled":true,"fill":"#f0f3fa","size":169,"opacity":1}},
{"data":{"name":"paneButtons"},"mark":{"type":"text","align":"center","baseline":"middle","fontSize":10,"color":"#787b86"},"encoding":{"text":{"field":"t"}}}
]},
{"data":{"values":[{"a":62},{"a":98}]},"mark":{"type":"point","opacity":0},"encoding":{"y":{"field":"a","type":"quantitative","title":null,"scale":{"domain":[61.17,99],"nice":false,"zero":false},"axis":{"orient":"right","offset":84,"values":[62,64,66,68,70,72,74,76,78,80,82,84,86,88,90,92,94,96,98],"grid":false,"domain":false,"ticks":false,"labelPadding":0,"labelFontSize":13.5,"labelColor":"#131722","labelFlush":false,"labelOverlap":false}}}},
{"data":{"values":[{"b":1.1},{"b":-1.1}]},"mark":{"type":"point","opacity":0},"encoding":{"y":{"field":"b","type":"quantitative","title":null,"scale":{"domain":[-1.309,1.1426],"nice":false,"zero":false},"axis":{"orient":"right","offset":143,"values":[1.1,0.9,0.7,0.5,0.3,0.1,-0.1,-0.3,-0.5,-0.7,-0.9,-1.1],"grid":false,"domain":false,"ticks":false,"labelPadding":0,"labelFontSize":13.5,"labelColor":"#131722","labelFlush":false,"labelOverlap":false,"labelExpr":"datum.value>0.8?'1':datum.value>-0.2?'0':'−0'"}}}}
],
"resolve":{"scale":{"y":"independent"},"axis":{"y":"independent"}}}
